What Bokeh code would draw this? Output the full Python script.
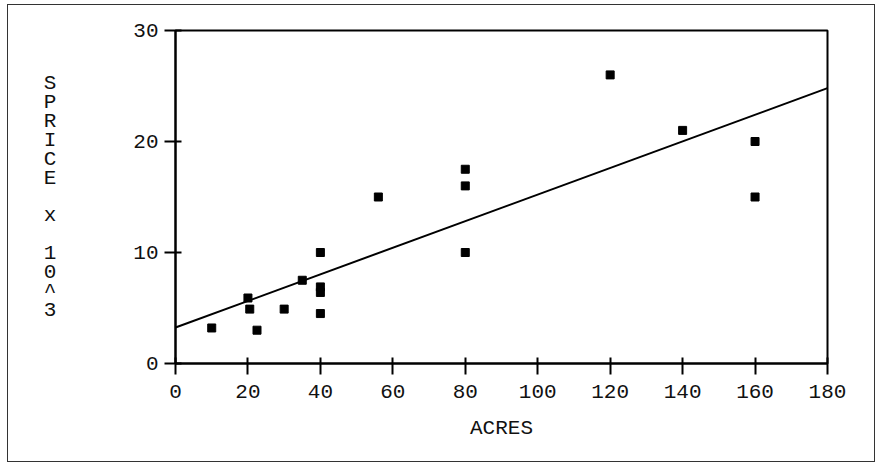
from bokeh.plotting import figure
from bokeh.models import Range1d, FixedTicker
from bokeh.embed import file_html
from bokeh.resources import INLINE

# Data
acres = [10, 20, 20.5, 22.5, 30, 35, 40, 40, 40, 40, 56, 80, 80, 80, 120, 140, 160, 160]
price = [3.2, 5.9, 4.9, 3.0, 4.9, 7.5, 10.0, 6.9, 6.4, 4.5, 15.0, 10.0, 17.5, 16.0, 26.0, 21.0, 20.0, 15.0]

# Fitted regression line (intercept, slope)
fit_intercept = 3.24
fit_slope = 0.1198
fit_x = [0, 180]

x_ticks = [0, 20, 40, 60, 80, 100, 120, 140, 160, 180]
y_ticks = [0, 10, 20, 30]

FONT = "Liberation Mono"

p = figure(width=868, height=458, output_backend="svg", toolbar_location=None,
           x_range=Range1d(0, 180), y_range=Range1d(0, 30),
           min_border_left=167, min_border_right=49, min_border_top=25, min_border_bottom=100)
p.margin = (4, 0, 0, 7)
p.styles = {"border": "1.5px solid #333", "box-sizing": "border-box"}

p.xgrid.visible = False
p.ygrid.visible = False
p.outline_line_color = "black"
p.outline_line_width = 2
p.outline_line_alpha = 1
p.background_fill_color = "white"
p.border_fill_color = "white"

p.xaxis.ticker = FixedTicker(ticks=x_ticks)
p.yaxis.ticker = FixedTicker(ticks=y_ticks)
for ax in (p.xaxis, p.yaxis):
    ax.axis_line_color = "black"
    ax.axis_line_width = 2
    ax.major_tick_line_color = "black"
    ax.major_tick_line_width = 2
    ax.major_tick_out = 11
    ax.major_tick_in = 6
    ax.minor_tick_line_color = None
    ax.major_label_text_font = FONT
    ax.major_label_text_font_size = "21px"
    ax.major_label_text_color = "#111"
    ax.axis_label_text_font = FONT
    ax.axis_label_text_font_size = "21px"
    ax.axis_label_text_font_style = "normal"
    ax.axis_label_text_color = "#111"

p.xaxis.axis_label = "ACRES"
p.xaxis.major_label_standoff = 10
p.xaxis.axis_label_standoff = 16
p.yaxis.axis_label = "S\nP\nR\nI\nC\nE\n \nx\n \n1\n0\n^\n3"
p.yaxis.axis_label_orientation = "horizontal"
p.yaxis.axis_label_text_line_height = 0.82
p.yaxis.axis_label_standoff = 74
p.yaxis.major_label_standoff = 6

p.scatter(acres, price, marker="square", size=8, color="black")
fit_y = [fit_intercept + fit_slope * x for x in fit_x]
p.line(fit_x, fit_y, line_color="black", line_width=2)

open("out.html", "w").write(file_html(p, INLINE))
